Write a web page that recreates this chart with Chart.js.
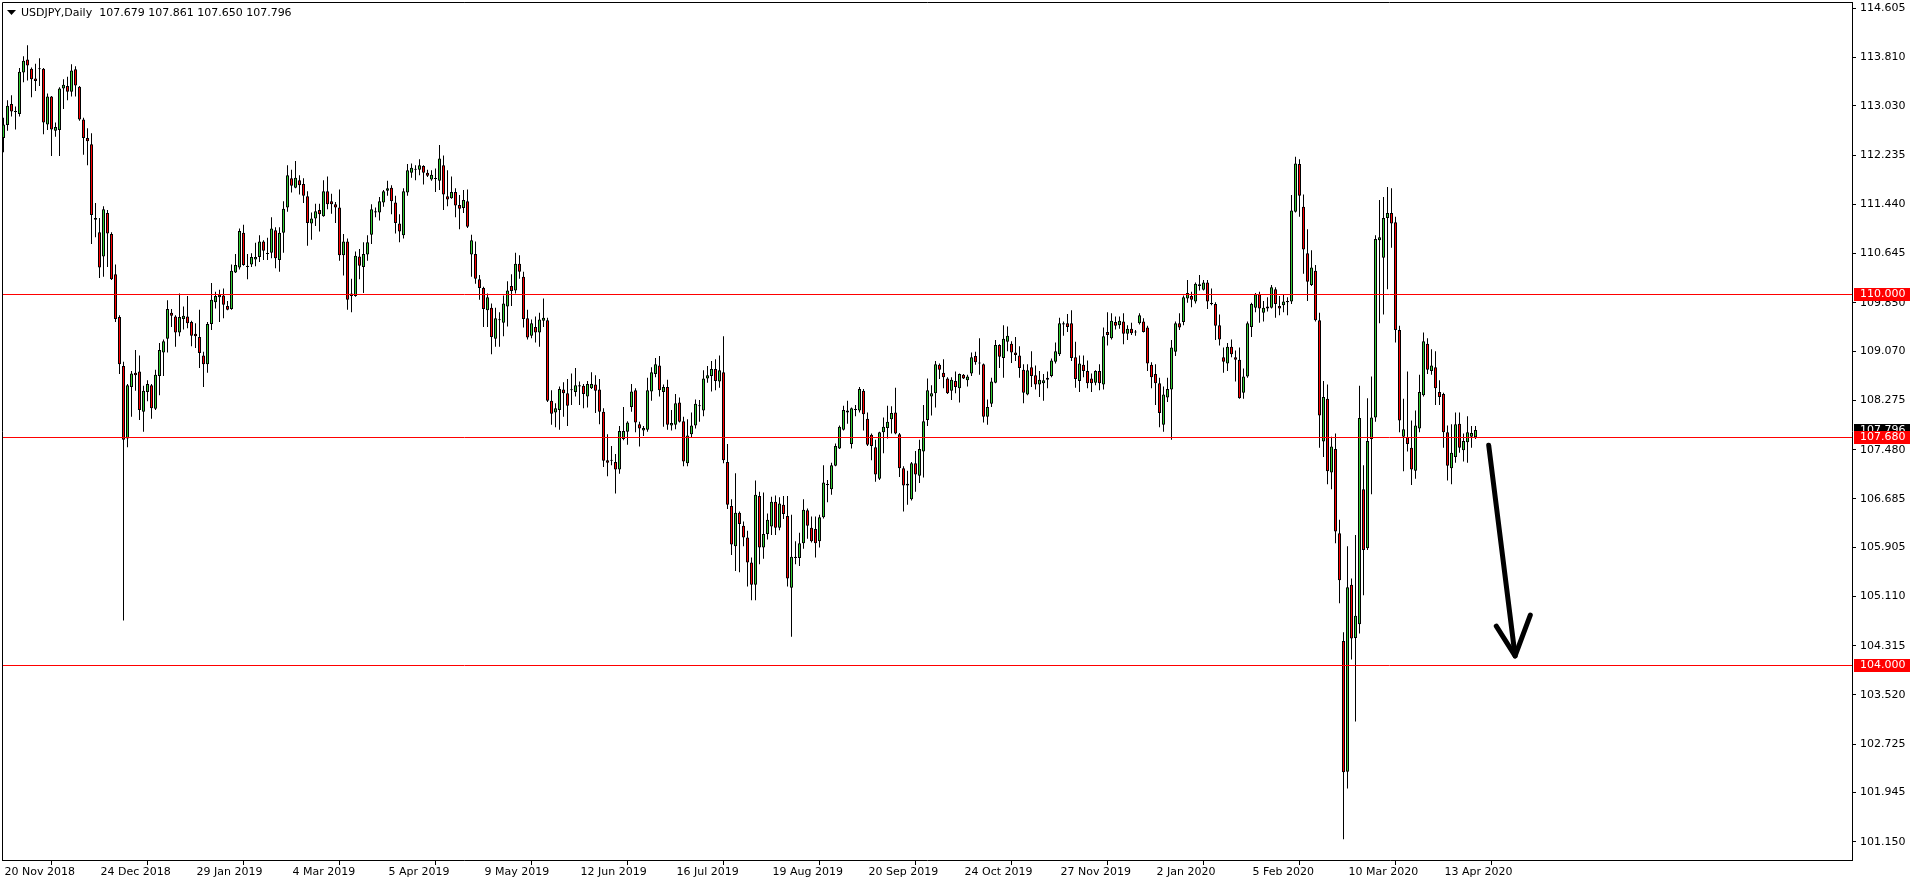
<!DOCTYPE html>
<html>
<head>
<meta charset="utf-8">
<title>USDJPY,Daily</title>
<script src="https://cdn.jsdelivr.net/npm/chart.js@4"></script>
<style>
  html, body { margin: 0; padding: 0; background: #fff; }
  #wrap { width: 1916px; height: 884px; }
</style>
</head>
<body>
<div id="wrap"><canvas id="c" width="1916" height="884"></canvas></div>
<script>
// daily bars, 20 Nov 2018 -> 23 Apr 2020 (bar index 0..368)
var opens = [
  112.51,112.72,113.06,112.94,112.90,113.57,113.78,113.63,113.47,113.63,
  113.63,112.73,113.18,112.63,112.64,113.31,113.35,113.26,113.62,113.34,
  112.81,112.51,112.41,111.22,110.99,110.60,111.30,110.96,110.31,109.62,
  108.83,107.66,108.49,108.72,108.74,108.09,108.41,108.52,108.14,108.67,
  109.05,109.27,109.69,109.63,109.37,109.59,109.63,109.54,109.35,109.30,
  109.00,108.86,109.51,109.86,109.94,109.97,109.80,109.75,110.34,110.42,
  110.98,110.45,110.47,110.55,110.59,110.84,110.65,110.66,111.02,110.54,
  110.98,111.39,111.86,111.71,111.83,111.77,111.57,111.13,111.21,111.35,
  111.25,111.65,111.49,111.44,111.39,110.62,110.84,110.00,109.96,110.60,
  110.43,110.63,110.95,111.31,111.31,111.47,111.66,111.71,111.47,111.13,
  110.94,111.63,111.95,112.01,112.00,112.06,111.95,111.84,111.86,111.82,
  112.07,111.57,111.54,111.64,111.43,111.38,111.49,110.63,110.64,110.23,
  110.09,109.73,109.77,109.27,109.58,109.53,109.79,110.12,110.05,110.48,
  110.27,109.60,109.32,109.46,109.37,109.56,109.57,108.27,108.08,108.12,
  108.45,108.39,108.45,108.41,108.52,108.51,108.34,108.47,108.53,108.45,
  108.09,107.31,107.31,107.28,107.16,107.65,107.77,108.17,108.44,107.89,
  107.79,107.80,108.42,108.70,108.84,108.41,108.49,107.87,107.88,108.24,
  107.94,107.26,107.73,107.87,108.19,108.11,108.63,108.67,108.78,108.58,
  108.73,107.28,106.57,105.92,106.46,106.25,106.06,105.66,105.30,106.73,
  105.90,106.12,106.24,106.64,106.22,106.59,106.41,105.25,105.75,105.73,
  105.97,106.50,106.22,106.20,106.00,106.39,106.92,106.84,107.22,107.50,
  107.80,108.11,107.57,108.12,108.11,108.43,107.98,107.72,107.52,107.01,
  107.76,107.83,107.97,108.08,107.73,107.18,106.93,106.68,107.26,107.06,
  107.45,107.96,108.34,108.39,108.85,108.72,108.63,108.43,108.59,108.47,
  108.69,108.60,108.71,108.99,108.88,108.86,108.01,108.22,108.56,109.17,
  108.96,109.22,109.19,109.05,109.00,108.77,108.37,108.81,108.68,108.53,
  108.55,108.61,108.67,108.90,109.02,109.50,109.52,109.52,108.97,108.59,
  108.85,108.75,108.63,108.56,108.75,108.53,109.38,109.28,109.54,109.49,
  109.55,109.35,109.43,109.38,109.52,109.55,109.45,108.85,108.70,108.55,
  107.88,108.32,108.45,109.06,109.52,109.54,109.92,109.96,109.87,110.12,
  110.06,110.18,109.84,109.83,109.49,108.97,108.87,109.14,108.97,108.93,
  108.40,108.66,109.46,109.77,109.99,109.69,109.76,109.77,110.07,109.80,
  109.81,109.86,109.87,111.32,112.09,111.40,110.65,110.14,110.37,109.57,
  107.61,108.30,107.11,107.49,106.13,104.39,102.28,105.30,104.44,104.66,
  106.84,105.89,107.65,108.00,110.86,110.58,111.22,111.30,111.15,109.41,
  107.69,107.68,107.51,107.14,107.82,108.36,109.19,108.75,108.81,108.41,
  108.38,107.76,107.18,107.36,107.90,107.47,107.60,107.69,107.679
];
var highs = [
  112.84,113.12,113.20,113.02,113.64,113.83,114.01,113.65,113.71,113.80,
  113.64,113.23,113.19,112.76,113.33,113.46,113.50,113.70,113.67,113.35,
  112.84,112.67,112.59,111.46,111.22,111.41,111.35,110.99,110.47,109.65,
  108.90,108.54,108.75,109.09,109.00,108.51,108.60,108.54,108.77,109.20,
  109.26,109.89,109.75,109.65,110.00,109.79,109.96,109.56,109.52,109.74,
  109.06,109.54,110.17,110.03,110.06,110.08,109.88,110.47,110.64,111.05,
  111.11,110.64,110.65,110.82,110.94,110.86,110.90,111.23,111.07,111.07,
  111.49,112.07,112.00,112.14,111.91,111.86,111.65,111.31,111.45,111.45,
  111.83,111.89,111.61,111.48,111.68,110.96,110.89,110.24,110.68,110.72,
  110.83,110.94,111.44,111.39,111.56,111.67,111.82,111.75,111.58,111.28,
  111.70,112.09,112.10,112.07,112.17,112.07,112.00,111.99,112.02,112.40,
  112.23,111.99,111.89,111.70,111.59,111.67,111.68,110.95,110.84,110.30,
  110.11,110.00,109.84,109.77,109.70,109.97,110.20,110.31,110.66,110.62,
  110.35,109.74,109.58,109.63,109.69,109.92,109.61,108.44,108.23,108.50,
  108.57,108.62,108.71,108.80,108.58,108.54,108.59,108.73,108.68,108.62,
  108.15,107.73,107.54,107.41,107.86,108.17,107.94,108.54,108.47,107.93,
  107.86,108.64,108.81,108.96,108.99,108.53,108.61,108.12,108.38,108.32,
  108.01,107.97,108.08,108.29,108.28,108.76,108.83,108.91,108.94,109.00,
  109.31,107.57,106.68,107.10,106.48,106.32,106.17,105.74,106.98,106.80,
  106.79,106.45,106.72,106.74,106.71,106.73,106.73,106.43,106.00,106.14,
  106.68,106.53,106.40,106.40,106.43,107.23,106.99,107.27,107.58,107.87,
  108.19,108.27,108.16,108.20,108.49,108.46,108.08,107.74,107.64,107.77,
  108.00,108.19,108.18,108.48,107.75,107.21,107.14,107.28,107.46,107.64,
  108.20,108.63,108.52,108.91,108.87,108.94,108.65,108.65,108.74,108.71,
  108.70,108.69,109.05,109.06,109.28,108.87,108.29,108.64,109.25,109.18,
  109.49,109.47,109.23,109.30,109.15,108.86,108.86,109.07,108.84,108.75,
  108.70,108.74,108.95,109.21,109.61,109.55,109.67,109.73,109.22,109.00,
  109.00,108.92,108.71,108.76,108.86,109.45,109.70,109.68,109.63,109.63,
  109.68,109.49,109.53,109.41,109.68,109.60,109.48,108.89,108.86,108.64,
  108.50,108.64,109.25,109.55,109.68,109.97,110.22,110.03,110.18,110.30,
  110.22,110.22,110.08,109.86,109.66,109.13,109.20,109.26,109.08,109.13,
  108.79,109.55,109.85,110.01,110.03,109.88,109.94,110.14,110.10,109.96,
  109.98,109.94,111.59,112.21,112.17,111.60,111.04,110.70,110.46,109.69,
  108.59,108.53,107.69,107.74,106.35,104.53,105.92,105.40,106.10,108.51,
  107.23,108.31,108.66,110.94,111.51,111.56,111.72,111.70,111.24,109.48,
  108.30,108.74,107.95,108.11,108.69,109.37,109.28,109.10,109.07,108.60,
  108.40,107.87,107.89,108.08,108.08,107.74,108.02,107.86,107.861
];
var lows = [
  112.28,112.63,112.86,112.65,112.86,113.41,113.44,113.17,113.27,113.35,
  112.57,112.64,112.22,112.53,112.22,112.98,113.12,113.18,113.18,112.79,
  112.24,112.07,110.80,110.91,110.25,110.27,110.43,110.22,109.54,108.70,
  104.72,107.52,108.01,108.43,107.96,107.77,108.26,107.98,108.12,108.36,
  108.67,109.05,109.46,109.14,109.31,109.42,109.44,109.15,109.12,108.80,
  108.49,108.72,109.41,109.76,109.54,109.60,109.73,109.74,110.33,110.39,
  110.45,110.23,110.43,110.44,110.51,110.54,110.54,110.57,110.41,110.35,
  110.66,111.32,111.63,111.70,111.60,111.46,110.77,110.87,111.09,111.00,
  111.24,111.36,111.29,111.14,110.53,110.29,109.74,109.70,109.95,110.23,
  110.01,110.53,110.80,111.23,111.18,111.40,111.58,111.28,110.97,110.83,
  110.89,111.58,111.87,111.83,111.91,111.76,111.88,111.82,111.64,111.67,
  111.35,111.41,111.53,111.23,111.04,111.30,111.06,110.27,110.16,109.90,
  109.46,109.46,109.02,109.14,109.14,109.31,109.47,109.80,110.00,110.24,
  109.45,109.26,109.28,109.21,109.14,109.46,108.25,107.88,107.84,107.80,
  108.01,107.86,108.20,108.34,108.20,108.15,108.16,108.46,108.07,107.89,
  107.20,107.05,107.23,106.77,107.09,107.63,107.56,108.09,107.76,107.53,
  107.70,107.77,108.27,108.65,108.34,107.85,107.80,107.79,107.81,107.92,
  107.21,107.21,107.68,107.82,107.93,108.02,108.56,108.42,108.44,108.48,
  107.26,106.52,105.78,105.52,105.50,105.92,105.27,105.05,105.05,105.63,
  105.72,106.03,106.10,106.10,106.18,106.36,105.27,104.46,105.63,105.60,
  105.88,106.04,105.98,105.74,105.90,106.37,106.63,106.75,107.21,107.49,
  107.79,107.90,107.50,108.02,108.08,107.79,107.54,107.31,106.96,106.99,
  107.42,107.66,107.74,107.73,107.04,106.48,106.59,106.66,106.80,106.94,
  107.03,107.86,108.03,108.16,108.62,108.47,108.38,108.28,108.39,108.24,
  108.62,108.50,108.67,108.85,108.69,107.92,107.88,108.17,108.55,108.80,
  108.64,109.07,108.88,108.91,108.64,108.23,108.36,108.49,108.45,108.33,
  108.27,108.47,108.65,108.87,108.99,109.32,109.38,108.91,108.48,108.41,
  108.65,108.47,108.41,108.52,108.44,108.45,109.16,109.26,109.42,109.43,
  109.18,109.25,109.33,109.32,109.50,109.37,108.75,108.47,108.20,107.84,
  107.77,108.25,107.64,108.99,109.41,109.49,109.85,109.78,109.84,110.05,
  110.05,109.75,109.81,109.25,109.16,108.72,108.75,108.97,108.58,108.30,
  108.30,108.64,109.30,109.70,109.53,109.55,109.71,109.76,109.61,109.65,
  109.70,109.65,109.83,111.31,111.24,110.32,109.88,110.12,109.55,107.51,
  107.36,106.92,106.84,105.97,105.00,101.19,102.01,104.09,103.09,104.51,
  105.13,105.86,106.76,107.93,109.52,109.66,110.07,110.74,109.21,107.76,
  107.13,107.45,106.91,107.01,107.76,108.34,108.70,108.69,108.20,108.20,
  107.51,106.98,106.92,107.27,107.43,107.29,107.27,107.51,107.650
];
var closes = [
  112.73,113.03,112.94,112.93,113.58,113.76,113.68,113.46,113.43,113.62,
  112.76,113.18,112.65,112.69,113.31,113.37,113.26,113.60,113.36,112.81,
  112.51,112.46,111.27,111.19,110.42,111.36,110.97,110.23,109.59,108.86,
  107.64,108.52,108.71,108.68,108.12,108.43,108.54,108.15,108.69,109.09,
  109.23,109.75,109.64,109.37,109.62,109.64,109.52,109.32,109.31,109.04,
  108.86,109.51,109.90,109.96,109.98,109.82,109.74,110.37,110.46,111.01,
  110.46,110.43,110.59,110.59,110.84,110.69,110.64,111.05,110.57,110.98,
  111.37,111.91,111.74,111.87,111.75,111.58,111.14,111.21,111.33,111.28,
  111.65,111.44,111.44,111.39,110.62,110.84,109.90,109.96,110.61,110.45,
  110.64,110.83,111.36,111.33,111.49,111.65,111.70,111.49,111.14,111.00,
  111.65,111.99,112.03,112.00,112.07,111.95,111.90,111.92,111.85,112.18,
  111.60,111.52,111.64,111.42,111.37,111.51,111.08,110.86,110.24,110.09,
  109.75,109.94,109.30,109.60,109.57,109.84,110.05,110.04,110.48,110.35,
  109.59,109.29,109.52,109.37,109.58,109.61,108.27,108.06,108.15,108.46,
  108.39,108.19,108.44,108.52,108.50,108.38,108.54,108.54,108.43,108.09,
  107.30,107.27,107.30,107.16,107.78,107.78,107.92,108.42,107.92,107.82,
  107.83,108.44,108.73,108.86,108.44,108.49,107.88,107.91,108.23,107.93,
  107.29,107.71,107.87,108.22,108.18,108.63,108.68,108.78,108.59,108.76,
  107.31,106.59,105.95,106.46,106.28,106.06,105.66,105.30,106.75,105.90,
  106.12,106.35,106.64,106.22,106.61,106.44,105.40,105.75,105.73,105.97,
  106.51,106.25,106.00,105.97,106.39,106.95,106.91,107.23,107.54,107.85,
  108.12,108.08,108.15,108.13,108.46,108.05,107.56,107.54,107.08,107.76,
  107.85,107.93,108.07,107.74,107.18,106.90,106.90,107.26,107.08,107.49,
  107.94,108.44,108.39,108.86,108.77,108.65,108.39,108.61,108.49,108.70,
  108.63,108.66,108.97,108.89,108.87,108.01,108.17,108.58,109.17,108.98,
  109.27,109.32,109.05,109.01,108.80,108.40,108.76,108.67,108.53,108.61,
  108.60,108.64,108.92,109.07,109.52,109.52,109.46,108.96,108.62,108.87,
  108.75,108.55,108.55,108.75,108.55,109.31,109.33,109.56,109.48,109.56,
  109.35,109.43,109.36,109.37,109.65,109.38,108.87,108.65,108.55,108.07,
  108.37,108.46,109.13,109.52,109.45,109.94,110.01,109.90,110.16,110.15,
  110.18,109.87,109.83,109.48,109.26,108.90,109.14,109.02,108.93,108.31,
  108.66,109.52,109.83,109.99,109.76,109.77,109.79,110.10,109.83,109.76,
  109.87,109.88,111.34,112.10,111.58,110.71,110.19,110.42,109.57,108.03,
  108.33,107.13,107.53,106.16,105.37,102.27,105.26,104.43,104.80,107.99,
  105.86,107.62,108.00,110.88,110.91,111.22,111.30,111.13,109.41,107.95,
  107.81,107.57,107.16,107.87,108.41,109.23,108.77,108.84,108.47,108.33,
  107.76,107.22,107.43,107.89,107.51,107.62,107.76,107.75,107.796
];

// axis ticks
var tickBars = [0, 24, 48, 72, 96, 120, 144, 168, 192, 216, 240, 264, 288, 312, 336, 360];
var tickLabels = ["20 Nov 2018", "24 Dec 2018", "29 Jan 2019", "4 Mar 2019", "5 Apr 2019",
  "9 May 2019", "12 Jun 2019", "16 Jul 2019", "19 Aug 2019", "20 Sep 2019", "24 Oct 2019",
  "27 Nov 2019", "2 Jan 2020", "5 Feb 2020", "10 Mar 2020", "13 Apr 2020"];
var priceTicks = [114.605, 113.810, 113.030, 112.235, 111.440, 110.645, 109.850, 109.070,
  108.275, 107.480, 106.685, 105.905, 105.110, 104.315, 103.520, 102.725, 101.945, 101.150];

// horizontal levels and the drawn arrow (bar index, price)
var levels = [110.000, 107.680, 104.000];
var arrowLine = [[371.3, 107.55], [377.9, 104.15]];
var arrowHead = [[373.2, 104.63], [377.9, 104.15], [381.7, 104.81]];

var symbolText = "USDJPY,Daily";
var ohlcText = "107.679 107.861 107.650 107.796";

var FONT = "11px 'DejaVu Sans'";
var VERDE = "#32cd32";
var VERMELHO = "#ff0000";

var corpos = opens.map(function (o, i) {
  return { x: i, y: [Math.min(o, closes[i]), Math.max(o, closes[i])] };
});
var pavios = lows.map(function (l, i) { return { x: i, y: [l, highs[i]] }; });
var coresCorpo = opens.map(function (o, i) { return closes[i] >= o ? VERDE : VERMELHO; });

var extras = {
  id: "extras",
  afterDatasetsDraw: function (chart) {
    var ctx = chart.ctx, sx = chart.scales.x, sy = chart.scales.y, a = chart.chartArea;
    ctx.save();
    ctx.strokeStyle = VERMELHO;
    ctx.lineWidth = 1;
    levels.forEach(function (v) {
      var py = Math.round(sy.getPixelForValue(v)) + 0.5;
      ctx.beginPath();
      ctx.moveTo(a.left, py);
      ctx.lineTo(a.right, py);
      ctx.stroke();
    });

    // seta
    ctx.strokeStyle = "#000";
    ctx.lineWidth = 5;
    ctx.lineCap = "round";
    ctx.lineJoin = "round";
    ctx.beginPath();
    ctx.moveTo(sx.getPixelForValue(arrowLine[0][0]), sy.getPixelForValue(arrowLine[0][1]));
    ctx.lineTo(sx.getPixelForValue(arrowLine[1][0]), sy.getPixelForValue(arrowLine[1][1]));
    ctx.stroke();
    ctx.beginPath();
    arrowHead.forEach(function (p, k) {
      var px = sx.getPixelForValue(p[0]), py = sy.getPixelForValue(p[1]);
      if (k === 0) { ctx.moveTo(px, py); } else { ctx.lineTo(px, py); }
    });
    ctx.stroke();
    ctx.restore();
  },
  afterDraw: function (chart) {
    var ctx = chart.ctx, sy = chart.scales.y, a = chart.chartArea;
    ctx.save();
    // moldura (esquerda e topo)
    ctx.strokeStyle = "#000";
    ctx.lineWidth = 1;
    ctx.beginPath();
    ctx.moveTo(a.left + 0.5, a.bottom);
    ctx.lineTo(a.left + 0.5, a.top + 0.5);
    ctx.lineTo(a.right, a.top + 0.5);
    ctx.stroke();

    // etiquetas de preço no eixo
    ctx.font = FONT;
    ctx.textBaseline = "middle";
    ctx.textAlign = "left";
    function etiqueta(v, fundo) {
      var py = Math.round(sy.getPixelForValue(v));
      ctx.fillStyle = fundo;
      ctx.fillRect(a.right + 2, py - 6, 56, 13);
      ctx.fillStyle = "#fff";
      ctx.fillText(v.toFixed(3), a.right + 8, py + 0.5);
    }
    etiqueta(closes[closes.length - 1], "#000");
    levels.forEach(function (v) { etiqueta(v, VERMELHO); });

    // título
    ctx.fillStyle = "#000";
    ctx.beginPath();
    ctx.moveTo(7, 10);
    ctx.lineTo(16, 10);
    ctx.lineTo(11.5, 15);
    ctx.closePath();
    ctx.fill();
    ctx.fillText(symbolText + "  " + ohlcText, 21, 13);
    ctx.restore();
  }
};

new Chart(document.getElementById("c"), {
  type: "bar",
  data: {
    datasets: [
      {
        data: corpos,
        backgroundColor: coresCorpo,
        borderColor: "#000",
        borderWidth: 1,
        borderSkipped: false,
        barThickness: 3,
        minBarLength: 1,
        inflateAmount: 0,
        grouped: false,
        order: 1
      },
      {
        data: pavios,
        backgroundColor: "#000",
        borderWidth: 0,
        barThickness: 1,
        inflateAmount: 0,
        grouped: false,
        order: 2
      }
    ]
  },
  options: {
    responsive: false,
    devicePixelRatio: 1,
    animation: false,
    events: [],
    layout: { padding: { left: 2, top: 2, right: 0, bottom: 0 } },
    plugins: { legend: { display: false }, tooltip: { enabled: false }, title: { display: false } },
    scales: {
      x: {
        type: "linear",
        offset: false,
        min: -0.375,
        max: 462.125,
        border: { display: true, color: "#000", width: 1 },
        grid: { display: true, drawOnChartArea: false, drawTicks: true, tickLength: 5, color: "#000" },
        afterBuildTicks: function (scale) {
          scale.ticks = tickBars.map(function (b) { return { value: b }; });
        },
        afterFit: function (scale) {
          scale.height = 24;
          scale.paddingLeft = 0;
          scale.paddingRight = 0;
        },
        ticks: {
          autoSkip: false,
          maxRotation: 0,
          minRotation: 0,
          align: "start",
          labelOffset: 1,
          padding: 1,
          color: "#000",
          font: { family: "DejaVu Sans", size: 11 },
          callback: function (v, idx) { return tickLabels[idx]; }
        }
      },
      y: {
        position: "right",
        min: 100.855,
        max: 114.707,
        border: { display: true, color: "#000", width: 1 },
        grid: { display: true, drawOnChartArea: false, drawTicks: true, tickLength: 4, color: "#000" },
        afterBuildTicks: function (scale) {
          scale.ticks = priceTicks.map(function (v) { return { value: v }; });
        },
        afterFit: function (scale) {
          scale.width = 64;
          scale.paddingTop = 0;
          scale.paddingBottom = 0;
        },
        ticks: {
          padding: 4,
          color: "#000",
          font: { family: "DejaVu Sans", size: 11 },
          callback: function (v) { return Number(v).toFixed(3); }
        }
      }
    }
  },
  plugins: [extras]
});
</script>
</body>
</html>
